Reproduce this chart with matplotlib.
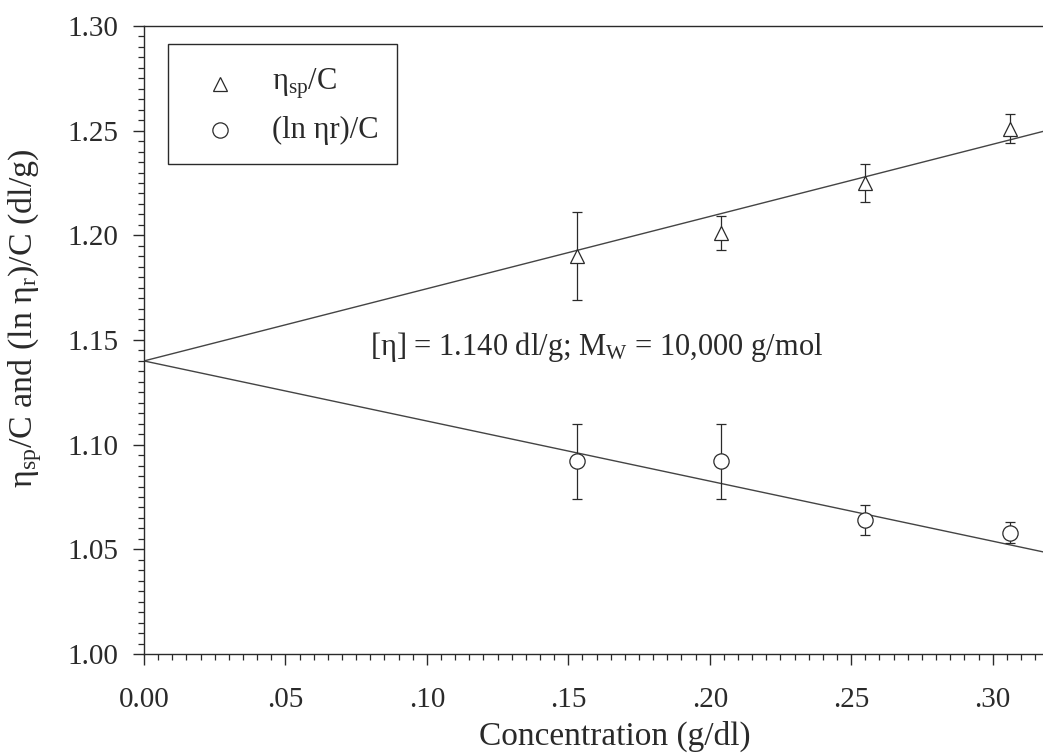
import matplotlib
matplotlib.use("Agg")
import matplotlib.pyplot as plt
from matplotlib.patches import Rectangle
from matplotlib.ticker import FixedLocator, FixedFormatter, MultipleLocator

plt.rcParams["font.family"] = ["Liberation Serif", "DejaVu Serif"]
plt.rcParams["mathtext.fontset"] = "custom"
plt.rcParams["mathtext.rm"] = "Liberation Serif"
plt.rcParams["mathtext.it"] = "Liberation Serif:italic"

# Concentrations (g/dl) and reduced / inherent viscosities (dl/g)
conc = [0.153, 0.204, 0.255, 0.306]
eta_sp_c = [1.190, 1.201, 1.225, 1.251]
eta_sp_c_err = [0.021, 0.008, 0.009, 0.007]
ln_eta_r_c = [1.092, 1.092, 1.064, 1.058]
ln_eta_r_c_err = [0.018, 0.018, 0.007, 0.005]

# Huggins and Kraemer fits sharing the intrinsic viscosity intercept
intrinsic_visc = 1.140
huggins_slope = 0.345
kraemer_slope = -0.287
fit_x = [0.0, 0.34]

x_ticks = [0.00, 0.05, 0.10, 0.15, 0.20, 0.25, 0.30]
x_tick_labels = ["0.00", ".05", ".10", ".15", ".20", ".25", ".30"]
y_ticks = [1.00, 1.05, 1.10, 1.15, 1.20, 1.25, 1.30]
y_tick_labels = ["1.00", "1.05", "1.10", "1.15", "1.20", "1.25", "1.30"]

ink = "#2a2a2a"
W, H = 1043, 755
fig = plt.figure(figsize=(W / 100, H / 100), dpi=100)
# the plotting frame runs a little past the right edge of the canvas
ax = fig.add_axes([144 / W, (H - 654) / H, (1086 - 144) / W, (654 - 26) / H])

ax.set_xlim(0, 0.333)
ax.set_ylim(1.00, 1.30)

# fitted lines
for slope in (huggins_slope, kraemer_slope):
    ax.plot(fit_x, [intrinsic_visc + slope * x for x in fit_x],
            color="#444444", lw=1.0, zorder=2)

common = dict(ls="none", color=ink, ecolor=ink, elinewidth=0.9, capsize=3.6,
              capthick=0.9, mfc="white", mec=ink, mew=0.9, zorder=3)
ax.errorbar(conc, eta_sp_c, yerr=eta_sp_c_err, marker="^", ms=10.5, **common)
ax.errorbar(conc, ln_eta_r_c, yerr=ln_eta_r_c_err, marker="o", ms=11, **common)

# axes styling
ax.spines["right"].set_visible(False)
for side in ("left", "bottom", "top"):
    ax.spines[side].set_color(ink)
    ax.spines[side].set_linewidth(1.0)

ax.xaxis.set_major_locator(FixedLocator(x_ticks))
ax.xaxis.set_major_formatter(FixedFormatter(x_tick_labels))
ax.yaxis.set_major_locator(FixedLocator(y_ticks))
ax.yaxis.set_major_formatter(FixedFormatter(y_tick_labels))
ax.xaxis.set_minor_locator(MultipleLocator(0.005))
ax.yaxis.set_minor_locator(MultipleLocator(0.005))
ax.tick_params(which="major", direction="out", length=8, width=1.0,
               color=ink, labelcolor=ink, labelsize=21)
ax.tick_params(which="minor", direction="out", length=4, width=0.9, color=ink)
ax.tick_params(axis="x", which="major", pad=15.5)
ax.tick_params(axis="y", which="major", pad=10.5)
ax.tick_params(top=False, right=False, which="both")

ax.set_xlabel("Concentration (g/dl)", fontsize=24, color=ink)
ax.xaxis.set_label_coords(0.5, -0.107)
ax.set_ylabel(r"η$_{\mathrm{sp}}$/C and (ln η$_{\mathrm{r}}$)/C (dl/g)",
              fontsize=24.5, color=ink)
ax.yaxis.set_label_coords(-0.106, 0.535)

ax.text(0.0799, 1.1466,
        r"[η] = 1.140 dl/g; M$_{\mathrm{W}}$ = 10,000 g/mol",
        fontsize=22, color=ink, ha="left", va="center")

# legend box (figure-pixel placement converted to axes fractions)
def px(xp, yp):
    return ((xp - 144) / (1086 - 144), (654 - yp) / (654 - 26))

x0, y0 = px(168, 164)
x1, y1 = px(397, 44)
ax.add_patch(Rectangle((x0, y0), x1 - x0, y1 - y0, transform=ax.transAxes,
                       fill=False, ec=ink, lw=1.0, zorder=4))
mx, my1 = px(220, 84)
_, my2 = px(220, 130)
tx, _ = px(272, 84)
ax.plot([mx], [my1], transform=ax.transAxes, marker="^", ms=10.5,
        mfc="white", mec=ink, mew=0.9, ls="none", zorder=5)
ax.plot([mx], [my2], transform=ax.transAxes, marker="o", ms=11,
        mfc="white", mec=ink, mew=0.9, ls="none", zorder=5)
ax.text(tx, my1, r"η$_{\mathrm{sp}}$/C", transform=ax.transAxes,
        fontsize=22, color=ink, ha="left", va="center")
ax.text(tx, my2, "(ln ηr)/C", transform=ax.transAxes,
        fontsize=22, color=ink, ha="left", va="center")

fig.savefig("out.png", dpi=100, facecolor="white")
